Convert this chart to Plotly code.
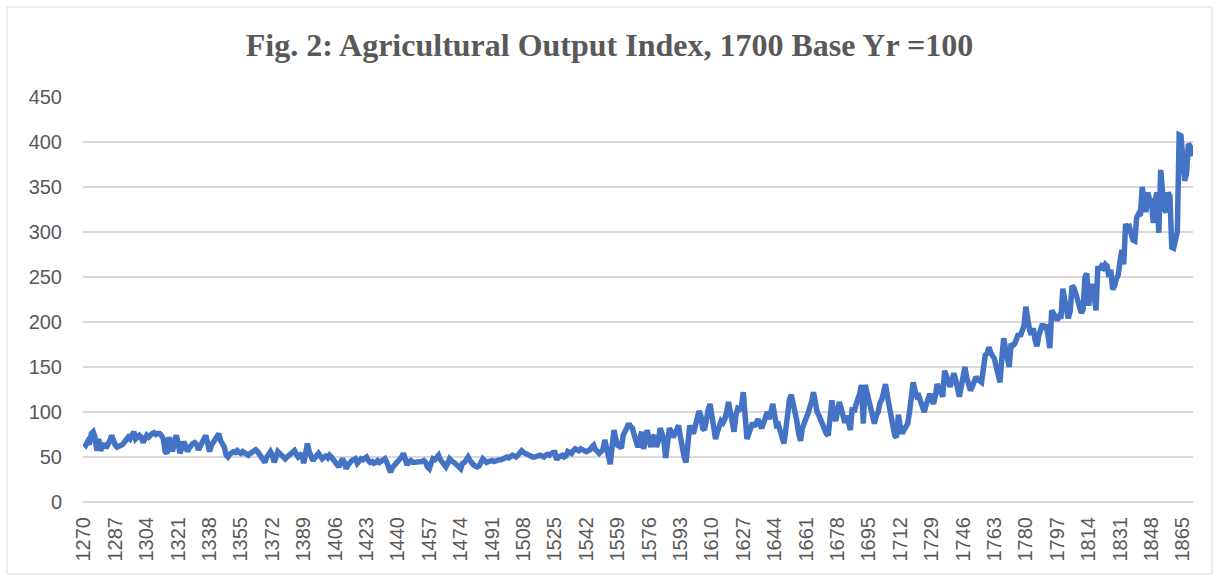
import plotly.graph_objects as go

# Years (category axis) and tick labels
years = list(range(1270, 1871))
tick_years = list(range(1270, 1871, 17))

# Agricultural output index (1700 = 100), by century blocks
index_1270_1369 = [
    65, 63, 67, 64, 76, 78, 72, 57, 70, 57,
    62, 65, 60, 63, 68, 74, 66, 63, 61, 63,
    63, 64, 67, 69, 72, 70, 75, 78, 70, 73,
    74, 72, 66, 70, 74, 72, 75, 76, 77, 75,
    76, 76, 74, 70, 56, 54, 72, 63, 56, 68,
    74, 66, 54, 60, 67, 63, 56, 60, 63, 65,
    66, 64, 58, 61, 66, 70, 74, 65, 56, 63,
    67, 70, 74, 76, 68, 65, 61, 52, 50, 53,
    54, 56, 55, 57, 55, 54, 56, 55, 53, 52,
    54, 55, 57, 58, 56, 53, 50, 46, 44, 50,
]
index_1370_1469 = [
    54, 56, 52, 44, 50, 56, 54, 52, 49, 48,
    50, 52, 54, 55, 57, 53, 50, 52, 54, 43,
    52, 65, 56, 50, 46, 49, 52, 54, 51, 48,
    50, 51, 49, 52, 50, 47, 44, 41, 39, 44,
    48, 44, 37, 41, 44, 46, 47, 48, 43, 45,
    48, 47, 49, 50, 46, 44, 45, 43, 44, 46,
    44, 45, 47, 48, 44, 37, 33, 38, 40, 43,
    45, 47, 50, 54, 48, 41, 45, 46, 44, 44,
    45, 44, 44, 45, 46, 44, 39, 37, 43, 48,
    47, 50, 52, 47, 44, 40, 39, 43, 48, 46,
]
index_1470_1569 = [
    45, 43, 41, 38, 37, 43, 44, 47, 50, 46,
    43, 41, 40, 39, 40, 45, 48, 46, 44, 45,
    46, 46, 45, 46, 46, 47, 47, 48, 49, 50,
    49, 51, 52, 51, 50, 52, 55, 57, 55, 54,
    52, 52, 51, 50, 50, 51, 52, 52, 51, 50,
    52, 53, 52, 54, 55, 55, 47, 50, 52, 52,
    50, 51, 56, 55, 54, 57, 59, 58, 57, 59,
    58, 56, 56, 57, 58, 61, 63, 58, 56, 54,
    56, 58, 69, 58, 48, 42, 62, 80, 70, 63,
    62, 60, 74, 78, 83, 87, 84, 82, 74, 68,
]
index_1570_1669 = [
    61, 70, 78, 59, 68, 80, 70, 61, 72, 74,
    61, 68, 82, 75, 69, 49, 66, 82, 78, 72,
    76, 81, 85, 72, 59, 50, 44, 62, 85, 80,
    76, 84, 92, 101, 96, 82, 80, 95, 102, 109,
    95, 80, 70, 78, 86, 90, 88, 92, 100, 111,
    100, 88, 78, 96, 104, 103, 106, 122, 95, 70,
    76, 82, 88, 84, 90, 92, 86, 82, 88, 94,
    100, 92, 104, 109, 96, 85, 86, 80, 72, 65,
    80, 100, 114, 119, 110, 102, 90, 76, 68, 82,
    90, 93, 98, 104, 112, 122, 110, 100, 96, 90,
]
index_1670_1769 = [
    86, 80, 76, 74, 92, 113, 98, 90, 100, 111,
    104, 94, 88, 96, 84, 80, 105, 100, 108, 113,
    120, 130, 87, 130, 120, 110, 100, 92, 87, 96,
    100, 110, 114, 122, 131, 118, 108, 100, 88, 74,
    72, 97, 84, 76, 80, 84, 87, 100, 120, 133,
    124, 117, 118, 110, 104, 100, 108, 114, 120, 114,
    109, 118, 131, 126, 122, 117, 146, 138, 132, 128,
    135, 143, 136, 126, 117, 128, 140, 150, 138, 130,
    124, 128, 134, 139, 136, 135, 133, 148, 163, 165,
    172, 166, 162, 159, 150, 140, 133, 160, 182, 170,
]
index_1770_1870 = [
    162, 150, 176, 174, 176, 182, 187, 184, 190, 196,
    217, 200, 191, 186, 193, 180, 173, 185, 195, 198,
    192, 197, 185, 171, 213, 208, 204, 202, 206, 204,
    237, 222, 214, 204, 212, 240, 238, 232, 226, 218,
    210, 214, 250, 254, 218, 237, 242, 228, 213, 262,
    258, 262, 260, 264, 262, 250, 258, 236, 240, 248,
    252, 268, 280, 264, 309, 305, 306, 298, 291, 290,
    316, 320, 318, 350, 330, 322, 344, 336, 335, 310,
    336, 344, 299, 369, 345, 325, 322, 344, 340, 283,
    282, 292, 300, 408, 407, 380, 357, 365, 398, 395,
    384,
]

values = (index_1270_1369 + index_1370_1469 + index_1470_1569
          + index_1570_1669 + index_1670_1769 + index_1770_1870)

TEXT = "#595959"
GRID = "#D9D9D9"

fig = go.Figure()
fig.add_trace(go.Scatter(
    x=years, y=values, mode="lines",
    line=dict(color="#4472C4", width=5.5),
    showlegend=False, hoverinfo="x+y",
))

W, H = 1219, 580
L, R, T, B = 83, 26, 97, 78
pw, ph = W - L - R, H - T - B

def px_x(p):
    return (p - L) / pw

def px_y(p):
    return (H - B - p) / ph

fig.update_layout(
    width=W, height=H,
    margin=dict(l=L, r=R, t=T, b=B, autoexpand=False),
    paper_bgcolor="white", plot_bgcolor="white",
    title=dict(
        text="Fig. 2: Agricultural Output Index, 1700 Base Yr =100",
        x=0.5, xref="container", xanchor="center",
        y=1 - 45 / H, yref="container", yanchor="middle",
        font=dict(family="Liberation Serif, Times New Roman, serif",
                  size=32, color=TEXT, weight="bold"),
    ),
    xaxis=dict(
        range=[years[0] - 0.5, years[-1] + 0.5],
        tickmode="array", tickvals=tick_years,
        ticktext=[str(y) for y in tick_years],
        tickangle=-90, ticks="", showgrid=False, zeroline=False,
        showline=False,
        tickfont=dict(family="Liberation Sans, Arial, sans-serif", size=20, color=TEXT),
        ticklabelstandoff=10,
    ),
    yaxis=dict(
        range=[0, 450], dtick=50, tick0=0,
        showgrid=True, gridcolor=GRID, gridwidth=1.5,
        zeroline=True, zerolinecolor=GRID, zerolinewidth=1.5,
        showline=False, ticks="",
        tickfont=dict(family="Liberation Sans, Arial, sans-serif", size=20, color=TEXT),
        ticklabelstandoff=20,
    ),
    shapes=[dict(
        type="rect", xref="paper", yref="paper",
        x0=px_x(7), x1=px_x(1212), y0=px_y(574), y1=px_y(7),
        line=dict(color=GRID, width=1), fillcolor="rgba(0,0,0,0)", layer="below",
    )],
)

fig.write_html("out.html", config={"displayModeBar": False},
               post_script="document.body.style.margin='0';")
